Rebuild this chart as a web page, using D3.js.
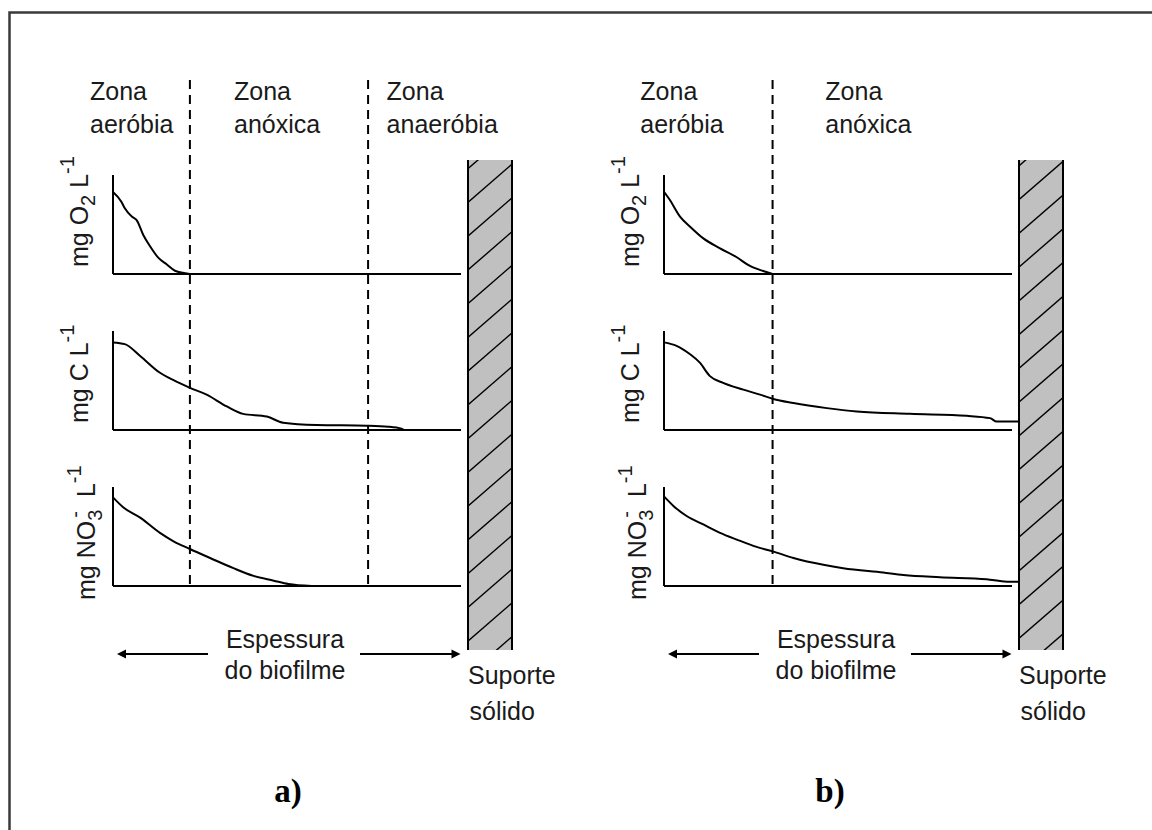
<!DOCTYPE html>
<html>
<head>
<meta charset="utf-8">
<script src="https://cdn.jsdelivr.net/npm/d3@7"></script>
<style>
  html, body { margin: 0; padding: 0; background: #ffffff; }
  svg { display: block; }
  text { font-family: "Liberation Sans", Arial, sans-serif; fill: #1a1a1a; }
  text.letter { font-family: "Liberation Serif", "Times New Roman", serif; font-weight: bold; fill: #000; }
</style>
</head>
<body>
<svg id="chart" width="1152" height="830"></svg>
<script>
// Depth through the biofilm runs 0 (liquid side) .. 100 (end of the drawn axis);
// concentrations are relative, 0 .. 100 of each small axis.

// zone headings
const zoneNamesA = [["Zona", "aeróbia"], ["Zona", "anóxica"], ["Zona", "anaeróbia"]];
const zoneNamesB = [["Zona", "aeróbia"], ["Zona", "anóxica"]];

// depths of the zone boundaries (dashed lines)
const zoneBoundsA = [22.1, 73.3];
const zoneBoundsB = [31.2];

// a) thick biofilm: aerobic, anoxic and anaerobic layers
const oxygenA = [[0, 82.8], [2.4, 73.0], [3.4, 66.4], [5.4, 58.0], [6.8, 54.5], [8.7, 39.4],
  [10.6, 28.3], [13.0, 16.5], [15.4, 9.8], [17.8, 3.3], [22.1, 0]];
const carbonA = [[0, 88.5], [3.4, 86.7], [7.8, 74.8], [13.5, 57.8], [17.4, 50.3], [22.1, 42.6],
  [26.9, 35.7], [32.7, 23.8], [37.4, 16.3], [44.2, 13.6], [48.9, 7.4], [58.5, 5.1],
  [72.9, 4.4], [79.1, 3.4], [82.9, 1.3], [83.6, 0]];
const nitrateA = [[0, 89.5], [3.0, 79.3], [7.8, 69.1], [13.5, 53.7], [17.4, 45.2], [22.1, 37.4],
  [27.9, 28.3], [34.6, 18.0], [40.4, 10.2], [46.2, 5.4], [50.4, 2.0], [57.1, 0]];

// b) thin biofilm: aerobic and anoxic layers only
const oxygenB = [[0, 83.1], [1.7, 74.7], [4.6, 58.0], [7.5, 47.8], [11.3, 36.0], [16.1, 26.0],
  [20.9, 16.9], [24.7, 8.1], [28.5, 3.0], [31.2, 0]];
const carbonB = [[0, 88.5], [3.6, 85.0], [7.5, 76.5], [10.3, 68.0], [13.2, 54.4], [17.0, 47.6],
  [22.8, 40.8], [27.6, 35.7], [31.4, 31.3], [37.2, 27.2], [46.8, 22.1], [55.4, 18.7],
  [70.7, 16.3], [87.0, 14.3], [93.7, 12.0], [95.6, 8.5], [101.8, 8.5]];
const nitrateB = [[0, 90.5], [2.7, 80.9], [6.5, 70.7], [11.3, 62.2], [16.1, 53.7], [20.9, 46.9],
  [26.6, 39.5], [31.2, 35.0], [37.2, 28.3], [45.8, 21.4], [51.5, 18.0], [63.0, 13.6],
  [68.8, 11.2], [79.3, 8.9], [92.7, 6.8], [98.5, 4.4], [101.8, 4.4]];

// axis titles: [text, role] where role is "", "sub", "sup" or "stack"
const unitO2 = [["mg O", ""], ["2", "sub"], [" L", ""], ["-1", "sup"]];
const unitC = [["mg C L", ""], ["-1", "sup"]];
const unitNO3 = [["mg NO", ""], ["3", "sub"], ["-", "stack"], [" L", "gap"], ["-1", "sup"]];

const thicknessLabel = ["Espessura", "do biofilme"];
const supportLabel = ["Suporte", "sólido"];
const panelLetters = ["a)", "b)"];

// ---------------------------------------------------------------- layout
const svg = d3.select("#chart");
const axisLen = 348;            // px length of each depth axis
const rowH = 99;                // px height of each concentration axis
const rowBase = [274, 430, 586];
const labelStart = [-7, -7, 14]; // title start (bottom end) relative to row baseline
const labelGap = [25, 25, 18];   // title baseline left of the y axis

const panels = [
  { axisX: 113, zones: zoneNamesA, bounds: zoneBoundsA, zoneDx: [-23, 121, 273.6],
    series: [oxygenA, carbonA, nitrateA], letter: panelLetters[0], letterDx: 175, hatchPhase: 3.3 },
  { axisX: 664, zones: zoneNamesB, bounds: zoneBoundsB, zoneDx: [-23.7, 161.3],
    series: [oxygenB, carbonB, nitrateB], letter: panelLetters[1], letterDx: 166, hatchPhase: 0.5 }
];
const units = [unitO2, unitC, unitNO3];

// outer frame (left and top edges)
svg.append("path")
  .attr("d", "M9.5,830 V12.5 H1152")
  .attr("fill", "none").attr("stroke", "#3a3a3a").attr("stroke-width", 2.5);

panels.forEach((p, pi) => {
  const g = svg.append("g");
  const x = d3.scaleLinear().domain([0, 100]).range([p.axisX, p.axisX + axisLen]);

  // zone headings
  p.zones.forEach((lines, i) => {
    const t = g.append("text")
      .attr("x", p.axisX + p.zoneDx[i]).attr("y", 100)
      .attr("font-size", 25);
    lines.forEach((ln, j) => t.append("tspan")
      .attr("x", p.axisX + p.zoneDx[i]).attr("dy", j === 0 ? 0 : 33).text(ln));
  });

  // zone boundaries
  g.selectAll(".bound").data(p.bounds).join("line")
    .attr("x1", d => x(d)).attr("x2", d => x(d))
    .attr("y1", 80).attr("y2", rowBase[2])
    .attr("stroke", "#000").attr("stroke-width", 2)
    .attr("stroke-dasharray", "9,6");

  // solid support: grey wall with diagonal hatching
  const wallX = p.axisX + 354, wallW = 46, wallTop = 160, wallBot = 650;
  const clipId = "wall" + pi;
  svg.append("clipPath").attr("id", clipId)
    .append("rect").attr("x", wallX).attr("y", wallTop)
    .attr("width", wallW).attr("height", wallBot - wallTop);
  g.append("rect").attr("x", wallX).attr("y", wallTop)
    .attr("width", wallW).attr("height", wallBot - wallTop)
    .attr("fill", "#c0c0c0");
  const step = 33.75, rise = 40;
  const hatchY = d3.range(wallTop + p.hatchPhase - step, wallBot + rise, step);
  g.append("g").attr("clip-path", `url(#${clipId})`)
    .selectAll("line").data(hatchY).join("line")
    .attr("x1", wallX).attr("y1", d => d + rise)
    .attr("x2", wallX + wallW).attr("y2", d => d)
    .attr("stroke", "#000").attr("stroke-width", 1.4);
  [wallX + 1, wallX + wallW - 1].forEach(wx => g.append("line")
    .attr("x1", wx).attr("x2", wx).attr("y1", wallTop).attr("y2", wallBot)
    .attr("stroke", "#000").attr("stroke-width", 2));

  // three concentration profiles
  rowBase.forEach((base, r) => {
    const y = d3.scaleLinear().domain([0, 100]).range([base, base - rowH]);
    // axes
    g.append("line").attr("x1", x(0)).attr("x2", x(0))
      .attr("y1", y(100)).attr("y2", y(0))
      .attr("stroke", "#000").attr("stroke-width", 2);
    g.append("line").attr("x1", x(0)).attr("x2", x(100))
      .attr("y1", y(0)).attr("y2", y(0))
      .attr("stroke", "#000").attr("stroke-width", 2);
    // profile
    const line = d3.line().x(d => x(d[0])).y(d => y(d[1])).curve(d3.curveMonotoneX);
    g.append("path").datum(p.series[r]).attr("d", line)
      .attr("fill", "none").attr("stroke", "#000").attr("stroke-width", 2);

    // rotated axis title
    const tg = g.append("g")
      .attr("transform", `translate(${p.axisX - labelGap[r]},${base + labelStart[r]}) rotate(-90)`);
    const t = tg.append("text").attr("x", 0).attr("y", 0).attr("font-size", 25);
    let shift = 0;
    units[r].forEach(([txt, role]) => {
      const s = t.append("tspan").text(txt);
      if (role === "sub") {
        s.attr("font-size", 20).attr("dy", 7 - shift); shift = 7;
      } else if (role === "sup") {
        s.attr("font-size", 20).attr("dy", -14 - shift); shift = -14;
      } else if (role === "stack") {
        s.attr("font-size", 20).attr("dx", -8).attr("dy", -13 - shift); shift = -13;
      } else {
        s.attr("dy", -shift); shift = 0;
        if (role === "gap") s.attr("dx", 7);
      }
    });
  });

  // thickness arrow
  const ay = 654;
  const left = [p.axisX + 4, p.axisX + 95], right = [p.axisX + 247, p.axisX + 347.5];
  g.append("line").attr("x1", left[0] + 4).attr("x2", left[1]).attr("y1", ay).attr("y2", ay)
    .attr("stroke", "#000").attr("stroke-width", 2);
  g.append("line").attr("x1", right[0]).attr("x2", right[1] - 4).attr("y1", ay).attr("y2", ay)
    .attr("stroke", "#000").attr("stroke-width", 2);
  g.append("path")
    .attr("d", `M${left[0]},${ay} L${left[0] + 9},${ay - 4.5} L${left[0] + 9},${ay + 4.5} Z`)
    .attr("fill", "#000");
  g.append("path")
    .attr("d", `M${right[1]},${ay} L${right[1] - 9},${ay - 4.5} L${right[1] - 9},${ay + 4.5} Z`)
    .attr("fill", "#000");

  const tt = g.append("text").attr("text-anchor", "middle").attr("font-size", 25);
  thicknessLabel.forEach((ln, j) => tt.append("tspan")
    .attr("x", p.axisX + 172).attr("y", [648, 679][j]).text(ln));

  const st = g.append("text").attr("font-size", 25);
  supportLabel.forEach((ln, j) => st.append("tspan")
    .attr("x", p.axisX + 355 + j * 1.5).attr("y", [684, 720][j]).text(ln));

  g.append("text").attr("class", "letter")
    .attr("x", p.axisX + p.letterDx).attr("y", 802)
    .attr("text-anchor", "middle")
    .attr("font-size", 33)
    .text(p.letter);
});
</script>
</body>
</html>
